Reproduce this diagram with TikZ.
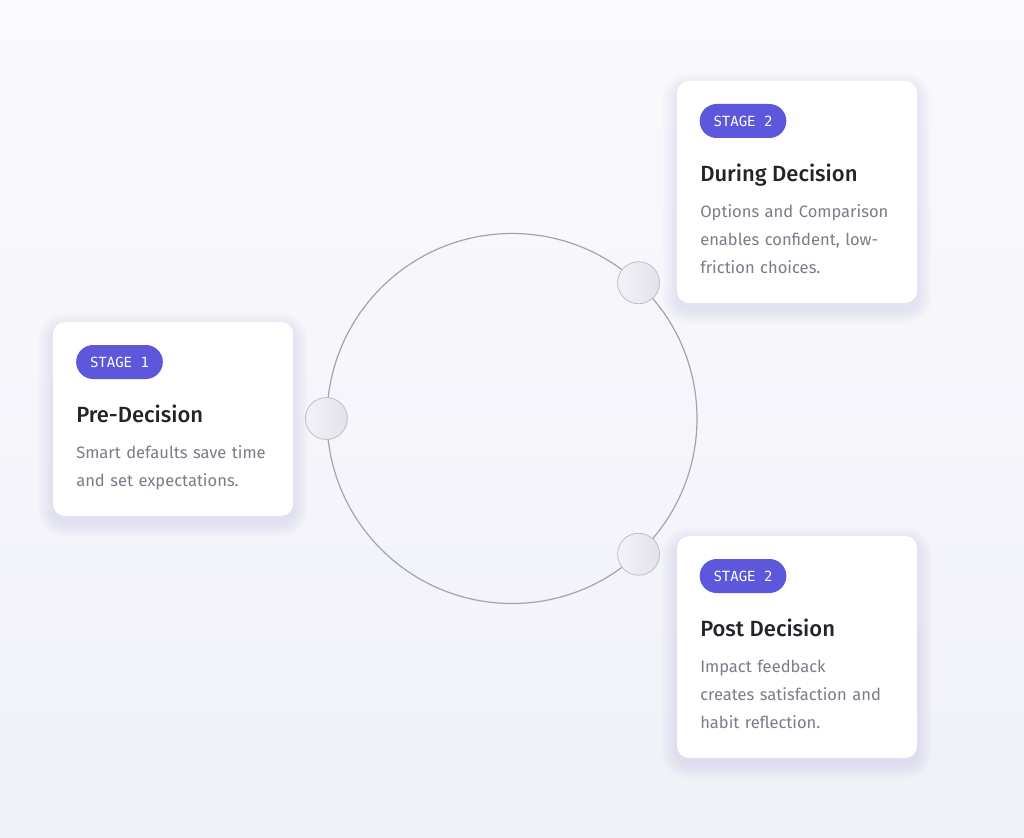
\documentclass[tikz,border=0pt]{standalone}
\usepackage{fontspec}
\setmainfont{Fira Sans}
\setmonofont{DejaVu Sans Mono}
\newfontfamily\headfont{Fira Sans}[UprightFont=* Medium]
\usetikzlibrary{positioning}

\definecolor{bgtop}{HTML}{FAFAFD}
\definecolor{bgbot}{HTML}{F0F0F8}
\definecolor{badgecol}{HTML}{5C57DB}
\definecolor{titlecol}{HTML}{23232A}
\definecolor{desccol}{HTML}{7C7B88}
\definecolor{ringcol}{HTML}{A3A3AB}
\definecolor{shadowcol}{HTML}{B4B2D6}
\definecolor{dotleft}{HTML}{F2F2F7}
\definecolor{dotright}{HTML}{E3E2EC}

%card with soft shadow: left, top, right, bottom (px)
\newcommand{\stagecard}[4]{
	\foreach \s in {1,...,10}
		\fill[shadowcol, opacity=0.022, rounded corners={9pt+1.1pt*\s}] (#1-1.5*\s,#2-1.5*\s+6) rectangle (#3+1.5*\s,#4+1.5*\s+6);
	\fill[white, rounded corners=9pt] (#1,#2) rectangle (#3,#4);
}

\begin{document}
\begin{tikzpicture}[x=0.75pt, y=-0.75pt,
	badge/.style={fill=badgecol, text=white, rounded corners=12.75pt, minimum width=65pt, minimum height=25.5pt, inner sep=0pt, font=\ttfamily\fontsize{10.5}{12}\selectfont},
	title/.style={anchor=base west, inner sep=0pt, text=titlecol, font=\headfont\fontsize{16.5}{20}\selectfont},
	desc/.style={anchor=base west, inner sep=0pt, text=desccol, text width=160pt, align=left, font=\fontsize{12.4}{21}\selectfont},
	dot/.style={circle, draw=ringcol!70, line width=0.6pt, left color=dotleft, right color=dotright, minimum size=31.5pt, inner sep=0pt}]
	%background
	\fill[top color=bgtop, bottom color=bgbot] (0,0) rectangle (1024,838);
	\useasboundingbox (0,0) rectangle (1024,838);

	%ring with stage markers
	\node[circle, draw=ringcol, line width=0.9pt, minimum size=277.5pt, inner sep=0pt] (ring) at (512,418.5) {};
	\node[dot] (pre) at (ring.west) {};
	\node[dot] (during) at (ring.47) {};
	\node[dot] (post) at (ring.-47) {};

	%stage 1
	\stagecard{53}{322}{293}{516}
	\node[badge] (b1) at (119.5,362) {STAGE 1};
	\node[title] (t1) at (76,422) {Pre-Decision};
	\node[desc] (d1) at (76,458) {Smart defaults save time\\and set expectations.};

	%stage 2
	\stagecard{677}{81}{917}{303}
	\node[badge] (b2) at (743,121) {STAGE 2};
	\node[title] (t2) at (700,181) {During Decision};
	\node[desc] (d2) at (700,217) {Options and Comparison\\enables confident, low-\\friction choices.};

	%stage 3
	\stagecard{677}{536}{917}{758}
	\node[badge] (b3) at (743,576) {STAGE 2};
	\node[title] (t3) at (700,636) {Post Decision};
	\node[desc] (d3) at (700,672) {Impact feedback\\creates satisfaction and\\habit reflection.};
\end{tikzpicture}
\end{document}
